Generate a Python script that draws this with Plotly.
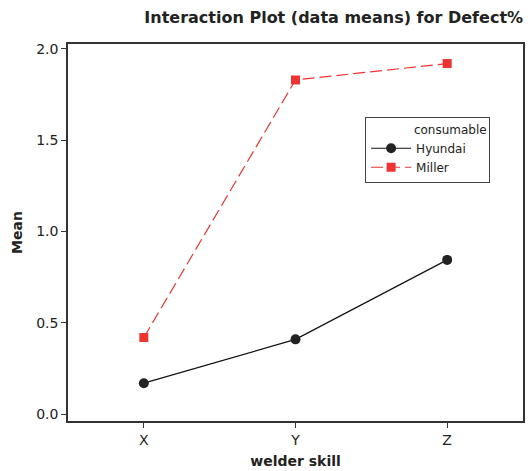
import plotly.graph_objects as go

skills = ["X", "Y", "Z"]
hyundai = [0.17, 0.41, 0.845]
miller = [0.42, 1.83, 1.92]
y_ticks = [0.0, 0.5, 1.0, 1.5, 2.0]
y_tick_labels = ["0.0", "0.5", "1.0", "1.5", "2.0"]

FONT = "DejaVu Sans"
AX = "#333333"

fig = go.Figure()
fig.add_trace(go.Scatter(
    x=skills, y=hyundai, name="Hyundai", mode="lines+markers",
    line=dict(color="#111111", width=1.2),
    marker=dict(symbol="circle", size=10, color="#222222"),
))
fig.add_trace(go.Scatter(
    x=skills, y=miller, name="Miller", mode="lines+markers",
    line=dict(color="#ee3333", width=1.2, dash="12px,5px"),
    marker=dict(symbol="square", size=9, color="#ee3333"),
))

fig.update_layout(
    width=528, height=471,
    margin=dict(l=68, r=3, t=44, b=50),
    plot_bgcolor="white", paper_bgcolor="white",
    font=dict(family=FONT, color="#222222", size=12),
    title=dict(text="<b>Interaction Plot (data means) for Defect%</b>",
               x=0.632, xanchor="center", y=0.963, yanchor="middle",
               font=dict(size=16, family=FONT, color="#222222")),
    xaxis=dict(
        type="category", range=[-0.5, 2.5],
        showline=True, linecolor=AX, linewidth=1.5, mirror=True,
        ticks="outside", ticklen=5, tickcolor=AX, tickwidth=1,
        showgrid=False, zeroline=False,
        tickfont=dict(size=14, family=FONT, color="#222222"),
        title=dict(text="<b>welder skill</b>", standoff=10,
                   font=dict(size=14, family=FONT, color="#222222")),
    ),
    yaxis=dict(
        range=[-0.037, 2.027],
        tickvals=y_ticks, ticktext=y_tick_labels,
        showline=True, linecolor=AX, linewidth=1.5, mirror=True,
        ticks="outside", ticklen=5, tickcolor=AX, tickwidth=1,
        showgrid=False, zeroline=False,
        tickfont=dict(size=14, family=FONT, color="#222222"),
        title=dict(text="<b>Mean</b>", standoff=10,
                   font=dict(size=14, family=FONT, color="#222222")),
    ),
    legend=dict(
        x=0.653, y=0.806, xanchor="left", yanchor="top",
        bordercolor="#444444", borderwidth=1, bgcolor="white",
        font=dict(size=12, family=FONT, color="#222222"),
        title=dict(text="            consumable", font=dict(size=12, family=FONT, color="#222222")),
        itemwidth=40,
    ),
    showlegend=True,
)

fig.write_html("out.html")
